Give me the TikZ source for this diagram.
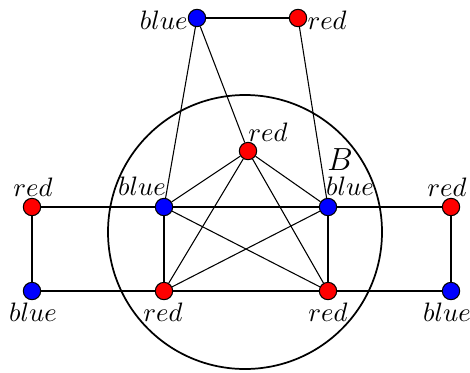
\documentclass[tikz,border=0pt]{standalone}
\begin{document}
\begin{tikzpicture}[x=0.375pt,y=-0.375pt,
  vtx/.style={circle,draw=black,line width=0.4pt,minimum size=6.5pt,inner sep=0pt},
  rv/.style={vtx,fill=red},
  bv/.style={vtx,fill=blue},
  lab/.style={inner sep=0pt},
  edge/.style={line width=0.4pt}]
\useasboundingbox (0,0) rectangle (470,372);
\draw[line width=0.65pt] (245,232) circle (137);
\node[bv] (tb) at (197,18) {};
\node[rv] (tr) at (298,18) {};
\node[rv] (c) at (248,151) {};
\node[bv] (lb) at (164,207) {};
\node[bv] (rb) at (328,207) {};
\node[rv] (lr) at (164,291) {};
\node[rv] (rr) at (328,291) {};
\node[rv] (flr) at (32,207) {};
\node[bv] (flb) at (32,291) {};
\node[rv] (frr) at (451,207) {};
\node[bv] (frb) at (451,291) {};
\draw[edge] (tb) -- (tr);
\draw[edge] (tb) -- (lb);
\draw[edge] (tb) -- (c);
\draw[edge] (tr) -- (rb);
\draw[edge] (c) -- (lb);
\draw[edge] (c) -- (rb);
\draw[edge] (c) -- (lr);
\draw[edge] (c) -- (rr);
\draw[edge] (lb) -- (rb);
\draw[edge] (lb) -- (lr);
\draw[edge] (rb) -- (rr);
\draw[edge] (lb) -- (rr);
\draw[edge] (rb) -- (lr);
\draw[edge] (lr) -- (rr);
\draw[edge] (flr) -- (lb);
\draw[edge] (flr) -- (flb);
\draw[edge] (flb) -- (lr);
\draw[edge] (frr) -- (rb);
\draw[edge] (frr) -- (frb);
\draw[edge] (frb) -- (rr);
\node[lab,anchor=east] (l1) at (188,20) {$blue$};
\node[lab,anchor=west] (l2) at (307,20) {$red$};
\node[lab] (l3) at (268,132) {$red$};
\node[lab] (lB) at (340,160) {\large $B$};
\node[lab] (l4) at (142,186) {$blue$};
\node[lab] (l5) at (350,186) {$blue$};
\node[lab] (l6) at (33,187) {$red$};
\node[lab] (l7) at (447,187) {$red$};
\node[lab] (l8) at (33,312) {$blue$};
\node[lab] (l9) at (163,312) {$red$};
\node[lab] (l10) at (328,312) {$red$};
\node[lab] (l11) at (447,312) {$blue$};
\end{tikzpicture}
\end{document}
